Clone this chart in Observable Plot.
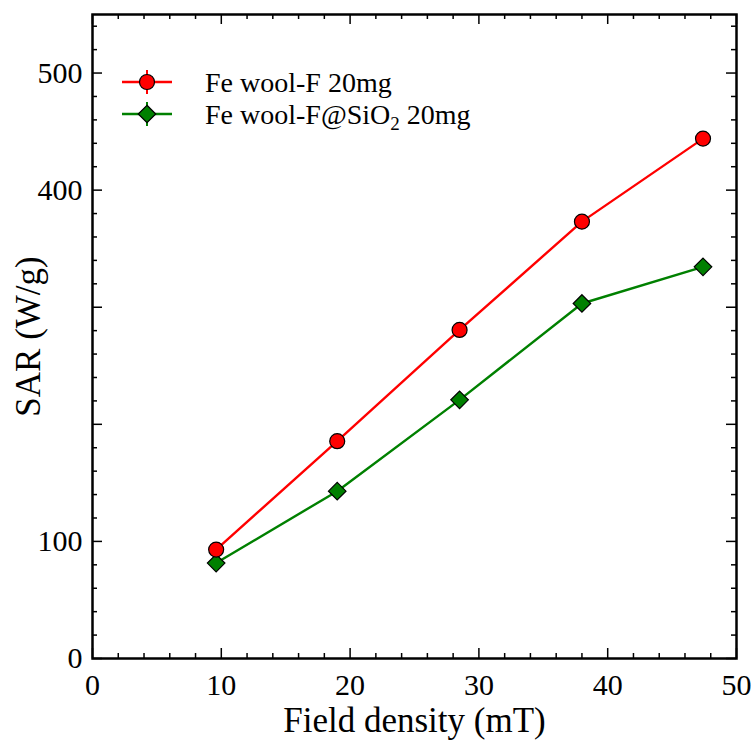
<!DOCTYPE html>
<html>
<head>
<meta charset="utf-8">
<script src="https://cdn.jsdelivr.net/npm/d3@7"></script>
<script src="https://cdn.jsdelivr.net/npm/@observablehq/plot@0.6"></script>
<style>
  html, body { margin: 0; padding: 0; background: white; }
  #chart { width: 754px; height: 742px; }
</style>
</head>
<body>
<div id="chart"></div>
<script>
// ---- Data ----
const fieldDensity = [9.6, 19.0, 28.5, 38.0, 47.4];          // mT
const sarFeWool = [93.0, 185.6, 280.6, 373.1, 444.0];        // W/g
const sarFeWoolSiO2 = [81.5, 142.9, 220.9, 303.2, 334.5];    // W/g
const seriesNames = ["Fe wool-F 20mg", "Fe wool-F@SiO2 20mg"];
const xTickLabels = [0, 10, 20, 30, 40, 50];
const yTickLabels = [0, 100, 400, 500];
const xTitle = "Field density (mT)";
const yTitle = "SAR (W/g)";

const xDomain = [0, 50];
const yDomain = [0, 550];
const colors = ["#ff0000", "#008000"];

const rows = [];
fieldDensity.forEach((x, i) => {
  rows.push({series: seriesNames[0], x, y: sarFeWool[i]});
  rows.push({series: seriesNames[1], x, y: sarFeWoolSiO2[i]});
});
const s0 = rows.filter(d => d.series === seriesNames[0]);
const s1 = rows.filter(d => d.series === seriesNames[1]);

const xMajor = d3.range(0, 51, 10);
const xMinor = d3.range(0, 51, 2).filter(v => v % 10 !== 0);
const yMajor = d3.range(0, 551, 100);
const yMinor = d3.range(0, 551, 20).filter(v => v % 100 !== 0);

function xTicks(vals, len) {
  return [
    Plot.ruleX(vals, {x: d => d, y1: () => yDomain[0], y2: () => yDomain[0], insetTop: -len, stroke: "black", strokeWidth: 1.5}),
    Plot.ruleX(vals, {x: d => d, y1: () => yDomain[1], y2: () => yDomain[1], insetBottom: -len, stroke: "black", strokeWidth: 1.5})
  ];
}
function yTicks(vals, len) {
  return [
    Plot.ruleY(vals, {y: d => d, x1: () => xDomain[0], x2: () => xDomain[0], insetRight: -len, stroke: "black", strokeWidth: 1.5}),
    Plot.ruleY(vals, {y: d => d, x1: () => xDomain[1], x2: () => xDomain[1], insetLeft: -len, stroke: "black", strokeWidth: 1.5})
  ];
}

function legendMark() {
  const g = d3.create("svg:g").attr("font-family", "Liberation Serif").attr("font-size", 28)
    .attr("fill", "black").attr("text-anchor", "start");
  seriesNames.forEach((name, i) => {
    const cy = 82 + 32 * i;
    const cx = 147;
    g.append("line").attr("x1", 122).attr("x2", 172).attr("y1", cy).attr("y2", cy)
      .attr("stroke", colors[i]).attr("stroke-width", 2.4);
    g.append("line").attr("x1", cx).attr("x2", cx).attr("y1", cy - 12).attr("y2", cy + 12)
      .attr("stroke", colors[i]).attr("stroke-width", 2);
    const sym = i === 0 ? d3.symbolCircle : d3.symbolDiamond2;
    const size = i === 0 ? Math.PI * 7.5 * 7.5 : Math.PI * 7.9 * 7.9;
    g.append("path").attr("d", d3.symbol(sym, size)()).attr("transform", `translate(${cx},${cy})`)
      .attr("fill", colors[i]).attr("stroke", "black").attr("stroke-width", 1.2);
    const t = g.append("text").attr("x", 205).attr("y", cy).attr("dy", "0.35em");
    if (name.includes("SiO2")) {
      const [pre, post] = name.split("SiO2");
      t.append("tspan").text(pre + "SiO");
      t.append("tspan").attr("font-size", 19).attr("dy", 6).text("2");
      t.append("tspan").attr("font-size", 28).attr("dy", -6).text(post);
    } else {
      t.text(name);
    }
  });
  return g.node();
}

const chart = Plot.plot({
  width: 754,
  height: 742,
  marginLeft: 92,
  marginRight: 18,
  marginTop: 14,
  marginBottom: 84,
  x: {domain: xDomain, axis: null},
  y: {domain: yDomain, axis: null},
  style: {fontFamily: "Liberation Serif", fontSize: "30px", color: "black", background: "white"},
  marks: [
    ...xTicks(xMajor, 10),
    ...xTicks(xMinor, 5),
    ...yTicks(yMajor, 10),
    ...yTicks(yMinor, 5),
    Plot.frame({stroke: "black", strokeWidth: 2.5}),
    Plot.text(xTickLabels, {x: d => d, frameAnchor: "bottom", textAnchor: "middle", lineAnchor: "middle", dy: 27, text: d => String(d), fontSize: 30}),
    Plot.text(yTickLabels, {y: d => d, frameAnchor: "left", textAnchor: "end", lineAnchor: "middle", dx: -10, text: d => String(d), fontSize: 30}),
    Plot.text([xTitle], {frameAnchor: "bottom", textAnchor: "middle", lineAnchor: "middle", dy: 62, text: d => d, fontSize: 35}),
    Plot.text([yTitle], {frameAnchor: "left", textAnchor: "middle", lineAnchor: "middle", rotate: -90, dx: -64, text: d => d, fontSize: 35}),
    Plot.line(s1, {x: "x", y: "y", stroke: colors[1], strokeWidth: 2.4}),
    Plot.line(s0, {x: "x", y: "y", stroke: colors[0], strokeWidth: 2.4}),
    Plot.dot(s1, {x: "x", y: "y", symbol: "diamond2", r: 7.9, fill: colors[1], stroke: "black", strokeWidth: 1.2}),
    Plot.dot(s0, {x: "x", y: "y", symbol: "circle", r: 7.5, fill: colors[0], stroke: "black", strokeWidth: 1.2}),
    legendMark
  ]
});
document.getElementById("chart").appendChild(chart);
</script>
</body>
</html>
